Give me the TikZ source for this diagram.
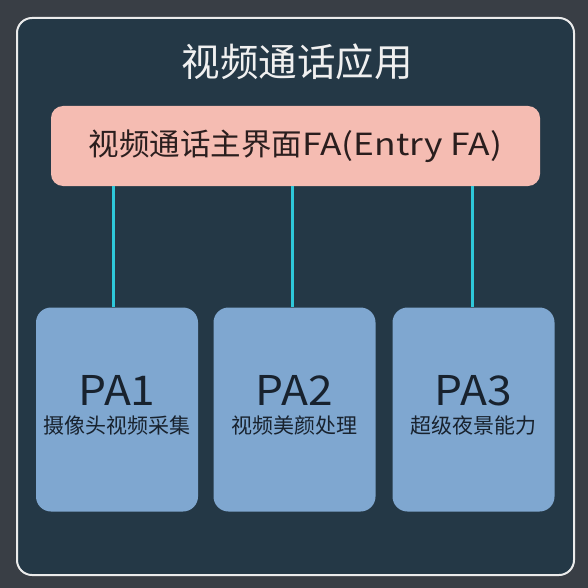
\documentclass[tikz,border=0pt]{standalone}
\usepackage{fontspec}
\setmainfont{Noto Sans CJK SC}
\newfontfamily\widelatin[FakeStretch=1.16]{Noto Sans CJK SC}
\newfontfamily\palatin[FakeStretch=1.08]{Noto Sans CJK SC}
\usetikzlibrary{calc}
\definecolor{outerbg}{HTML}{393E45}
\definecolor{innerbg}{HTML}{243846}
\definecolor{pinkfill}{HTML}{F5BCB2}
\definecolor{bluefill}{HTML}{7FA7D0}
\definecolor{cyanline}{HTML}{2EC8DA}
\definecolor{darktext}{HTML}{2A1E1E}
\definecolor{patext}{HTML}{18222E}
\tikzset{
  frame/.style={draw=white!92!black, line width=2pt, fill=innerbg, rounded corners=15pt},
  fabox/.style={fill=pinkfill, rounded corners=12pt, minimum width=489pt, minimum height=80pt, inner sep=0pt, text=darktext, font=\fontsize{30.5}{34}\selectfont},
  pabox/.style={fill=bluefill, rounded corners=15pt, minimum width=162pt, minimum height=204pt, inner sep=0pt},
  patitle/.style={text=patext, font=\palatin\fontsize{41}{46}\selectfont, inner sep=0pt},
  pasub/.style={text=patext, font=\fontsize{21}{24}\selectfont, inner sep=0pt},
  titletext/.style={text=white!94!black, font=\fontsize{38.5}{42}\selectfont, inner sep=0pt},
  link/.style={draw=cyanline, line width=3pt}
}
\begin{document}
\begin{tikzpicture}[x=1pt,y=-1pt]
\fill[outerbg] (0,0) rectangle (588,588);
\useasboundingbox (0,0) rectangle (588,588);
\draw[frame] (17,18) rectangle (574,575);
\node[titletext] (title) at (297,62) {视频通话应用};
\node[fabox] (fa) at (295.5,146) {\raisebox{-1pt}{视频通话主界面{\widelatin FA(Entry FA)}}};
\node[pabox] (pa1) at (117,409.5) {};
\node[pabox] (pa2) at (294.5,409.5) {};
\node[pabox] (pa3) at (473.5,409.5) {};
\draw[link] (fa.south -| 113,0) -- (pa1.north -| 113,0);
\draw[link] (fa.south -| 292,0) -- (pa2.north -| 292,0);
\draw[link] (fa.south -| 472,0) -- (pa3.north -| 472,0);
\foreach \n/\t/\s in {pa1/PA1/摄像头视频采集, pa2/PA2/视频美颜处理, pa3/PA3/超级夜景能力}{
  \node[patitle] (\n t) at ($(\n.center)+(0,-19)$) {\t};
  \node[pasub] (\n s) at ($(\n.center)+(0,16)$) {\s};
}
\end{tikzpicture}
\end{document}
